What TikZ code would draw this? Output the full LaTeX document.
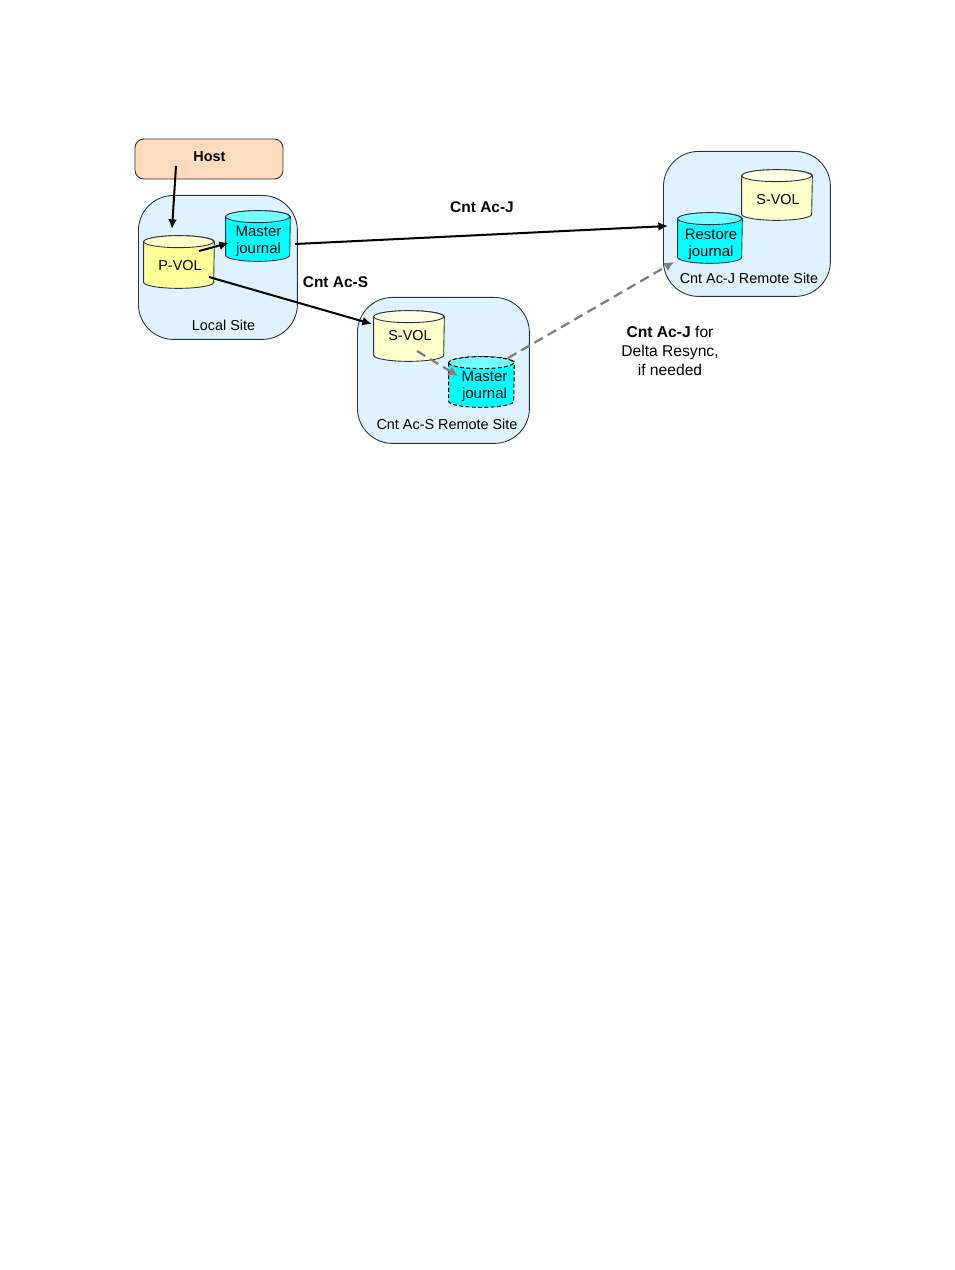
\documentclass[tikz,border=0pt]{standalone}
\usepackage{fontspec}
\setmainfont{Liberation Sans}
\usetikzlibrary{arrows.meta}
\definecolor{sitefill}{RGB}{224,242,255}
\definecolor{hostfill}{RGB}{255,220,190}
\definecolor{pvolfill}{RGB}{255,255,153}
\definecolor{svolfill}{RGB}{255,255,204}
\definecolor{jnlfill}{RGB}{0,255,255}
\definecolor{edgecol}{RGB}{40,50,65}
\definecolor{linkgray}{RGB}{128,128,128}
\tikzset{
	sitebox/.style={draw=edgecol,fill=sitefill,rounded corners=20,line width=0.5pt,anchor=north west,inner sep=0pt},
	volbox/.style={inner sep=0pt},
	voledge/.style={draw=edgecol,line width=0.5pt},
	voldash/.style={draw=black,line width=0.6pt,dash pattern=on 2.2pt off 1.4pt},
	lab/.style={font=\fontsize{8.2}{11}\selectfont,align=center,inner sep=0pt},
	jnllab/.style={font=\fontsize{8.5}{9.6}\selectfont,align=center,inner sep=0pt},
	boldlab/.style={font=\fontsize{8.8}{11}\selectfont\bfseries,inner sep=0pt},
	link/.style={-{Latex[length=5.5pt,width=5pt]},line width=1.15pt,black},
	dashlink/.style={-{Latex[length=5.5pt,width=5.5pt]},line width=1.3pt,linkgray,dash pattern=on 5.5pt off 3.2pt},
}
% name, half width, fill, line style
\newcommand{\drawvol}[4]{
	\draw[#4,fill=#3] ([yshift=-0.12cm]#1.north west) -- ([yshift=0.12cm]#1.south west)
		arc[start angle=180,end angle=0,x radius=#2,y radius=6]
		-- ([yshift=-0.12cm]#1.north east)
		arc[start angle=0,end angle=-180,x radius=#2,y radius=6] -- cycle;
	\draw[#4,fill=#3!55!white] ([yshift=-0.12cm]#1.north west)
		arc[start angle=180,end angle=-180,x radius=#2,y radius=6] -- cycle;
}
\begin{document}
\begin{tikzpicture}[x=0.02cm,y=-0.02cm]
	\useasboundingbox (0,0) rectangle (954,1270);
	% sites
	\node[sitebox,minimum width=3.18cm,minimum height=2.88cm] (localsite) at (138,195) {};
	\node[sitebox,minimum width=3.44cm,minimum height=2.92cm] (ssite) at (357,297) {};
	\node[sitebox,minimum width=3.34cm,minimum height=2.90cm] (jsite) at (663,151) {};
	\node[draw=edgecol,fill=hostfill,rounded corners=5,line width=0.5pt,minimum width=2.96cm,minimum height=0.8cm,inner sep=0pt] (host) at (209,159) {};
	\node[boldlab,font=\fontsize{8.2}{11}\selectfont\bfseries] (hostlab) at (209.5,157) {Host};
	% volumes
	\node[volbox,minimum width=1.4cm,minimum height=1.04cm] (pvol) at (179,262) {};
	\drawvol{pvol}{35}{pvolfill}{voledge}
	\node[lab] (pvollab) at (180,266) {P-VOL};
	\node[volbox,minimum width=1.28cm,minimum height=1cm] (mjnl) at (258,236) {};
	\drawvol{mjnl}{32}{jnlfill}{voledge}
	\node[jnllab] (mjnllab) at (258.5,241) {Master\\journal};
	\node[volbox,minimum width=1.4cm,minimum height=1cm] (svola) at (409,336) {};
	\drawvol{svola}{35}{svolfill}{voledge}
	\node[lab] (svolalab) at (410,336) {S-VOL};
	\node[volbox,minimum width=1.3cm,minimum height=1cm] (mjnlb) at (481.5,382) {};
	\drawvol{mjnlb}{32.5}{jnlfill}{voldash}
	\node[jnllab] (mjnlblab) at (484.5,386) {Master\\journal};
	\node[volbox,minimum width=1.4cm,minimum height=1cm] (svolb) at (777,195) {};
	\drawvol{svolb}{35}{svolfill}{voledge}
	\node[lab] (svolblab) at (778,199.5) {S-VOL};
	\node[volbox,minimum width=1.28cm,minimum height=1cm] (rjnl) at (710,238) {};
	\drawvol{rjnl}{32}{jnlfill}{voledge}
	\node[jnllab] (rjnllab) at (711,244) {Restore\\journal};
	% connector ends
	\coordinate (hosta) at (176,166);
	\coordinate (pvola) at (172,229);
	\coordinate (pvolb) at (199,251);
	\coordinate (mjnla) at (229,243);
	\coordinate (mjnlc) at (295,244);
	\coordinate (jsitea) at (668,226);
	\coordinate (pvolc) at (209,277);
	\coordinate (svolc) at (372,324);
	\coordinate (svold) at (417,351);
	\coordinate (mjnld) at (458,376);
	\coordinate (mjnle) at (508,358);
	\coordinate (jsiteb) at (674,262);
	\draw[link] (hosta) -- (pvola);
	\draw[link] (pvolb) -- (mjnla);
	\draw[link] (mjnlc) -- (jsitea);
	\draw[link] (pvolc) -- (svolc);
	\draw[dashlink] (svold) -- (mjnld);
	\draw[dashlink] (mjnle) -- (jsiteb);
	% labels
	\node[lab] (locallab) at (223.5,325.5) {Local Site};
	\node[lab] (slab) at (447,424.5) {Cnt Ac-S Remote Site};
	\node[lab] (jlab) at (749,278.5) {Cnt Ac-J Remote Site};
	\node[boldlab] (jlink) at (482,207.5) {Cnt Ac-J};
	\node[boldlab] (slink) at (335.5,282) {Cnt Ac-S};
	\node[lab,font=\fontsize{8.9}{10.9}\selectfont] (delta) at (670,351) {\textbf{Cnt Ac-J} for\\Delta Resync,\\if needed};
\end{tikzpicture}
\end{document}
